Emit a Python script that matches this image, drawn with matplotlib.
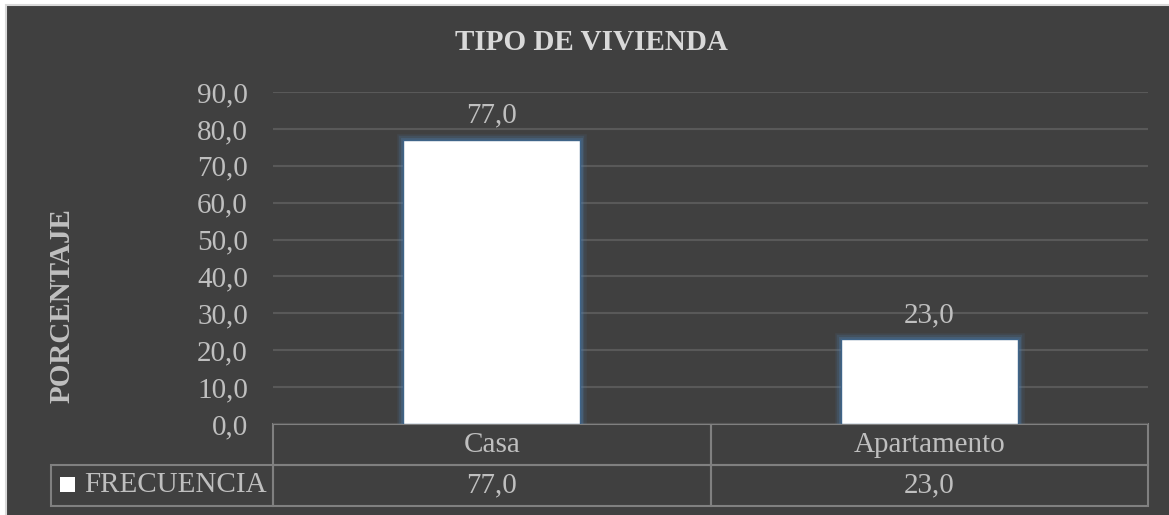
import matplotlib
matplotlib.use('Agg')
import matplotlib.pyplot as plt
from matplotlib.patches import Rectangle

categories = ['Casa', 'Apartamento']
frecuencia = [77.0, 23.0]
serie = 'FRECUENCIA'
titulo = 'TIPO DE VIVIENDA'
ylabel = 'PORCENTAJE'
yticks = [0, 10, 20, 30, 40, 50, 60, 70, 80, 90]

bg = '#404040'
txt = '#bfbfbf'
grid = '#595959'
line = '#808080'
fs = 21

def coma(v):
    return f'{v:.1f}'.replace('.', ',')

plt.rcParams['font.family'] = ['Liberation Serif', 'DejaVu Serif']

fig = plt.figure(figsize=(11.69, 5.15), dpi=100, facecolor='white')

# dark chart area with light border on top/left
fig.patches.append(Rectangle((6 / 1169, -0.02), 1.05, 1 - 5 / 515 + 0.02,
                             transform=fig.transFigure, facecolor=bg,
                             edgecolor='#d9d9d9', linewidth=1.5, zorder=-10))

ax = fig.add_axes([273 / 1169, 91 / 515, 875 / 1169, 332 / 515])
ax.set_facecolor('none')

x = list(range(len(categories)))

# soft blue glow around the bars
for lw, a in [(9, 0.12), (6, 0.18), (3.5, 0.3)]:
    ax.bar(x, frecuencia, width=0.405, facecolor='none', edgecolor='#4f7fae',
           linewidth=lw, alpha=a, zorder=2)
bars = ax.bar(x, frecuencia, width=0.405, color='white', edgecolor='#3f6488',
              linewidth=1.0, zorder=3)
ax.bar_label(bars, labels=[coma(v) for v in frecuencia], padding=8,
             color=txt, fontsize=fs)

ax.set_xlim(-0.5, len(categories) - 0.5)
ax.set_ylim(0, 90)
ax.set_yticks(yticks)
ax.set_yticklabels([coma(t) for t in yticks])
ax.tick_params(axis='y', length=0, pad=18, labelsize=fs, labelcolor=txt)
ax.set_xticks([])
ax.yaxis.grid(True, color=grid, linewidth=1.5)
ax.set_axisbelow(True)
for s in ax.spines.values():
    s.set_visible(False)

# data table below the plot (first column holds the series name)
lw0 = 222 / 875
tab = ax.table(cellText=[[serie] + [coma(v) for v in frecuencia]],
               colLabels=[''] + categories,
               colWidths=[lw0] + [0.5] * len(categories),
               cellLoc='center',
               bbox=[-lw0, -82 / 332, 1 + lw0, 82 / 332])
tab.auto_set_font_size(False)
tab.set_fontsize(fs)
for (r, c), cell in tab.get_celld().items():
    cell.set_facecolor('none')
    cell.set_edgecolor(line)
    cell.set_linewidth(1.5)
    cell.get_text().set_color(txt)
    if c == 0:
        cell.get_text().set_horizontalalignment('right')
        cell.PAD = 0.03
        if r == 0:
            cell.visible_edges = ''

# legend key square
ax.add_patch(Rectangle(((60 - 273) / 875, -(492 - 424) / 332), 15 / 875, 15 / 332,
                       transform=ax.transAxes, facecolor='white',
                       edgecolor='none', clip_on=False, zorder=5))

fig.text(591 / 1169, 1 - 43 / 515, titulo, ha='center', va='center',
         fontsize=21, fontweight='bold', color='#d9d9d9')
fig.text(62 / 1169, 1 - 306 / 515, ylabel, ha='center', va='center',
         rotation=90, fontsize=21, fontweight='bold', color=txt)

fig.savefig('out.png', dpi=100, facecolor='white')
